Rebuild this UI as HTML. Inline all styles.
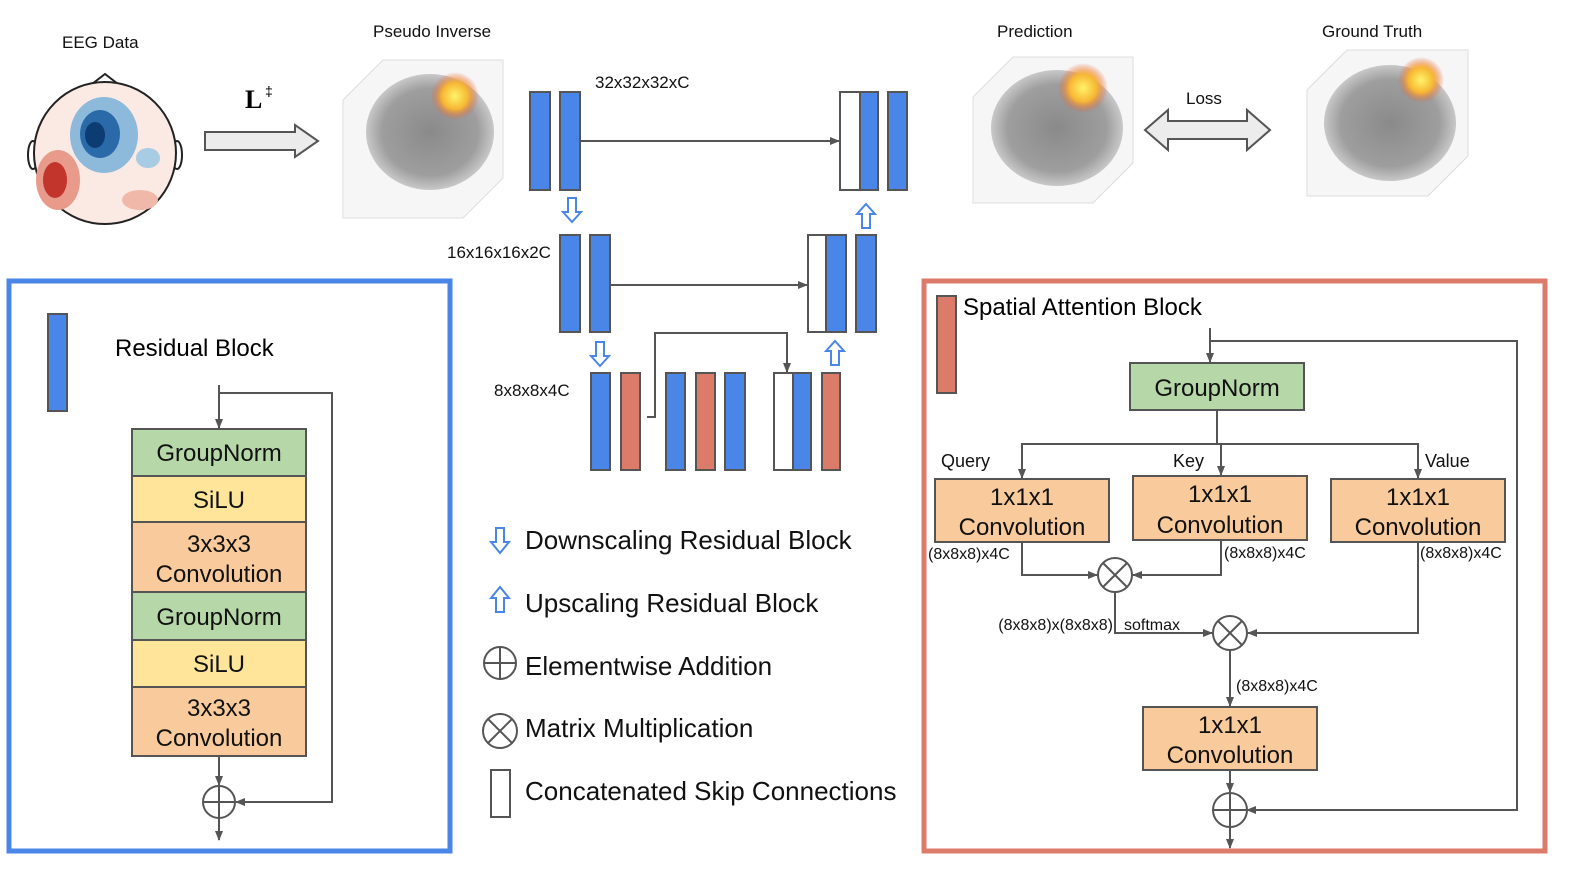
<!DOCTYPE html>
<html><head><meta charset="utf-8"><style>
html,body{margin:0;padding:0;background:#fff;overflow:hidden;width:1578px;height:888px;}
svg{display:block;font-family:"Liberation Sans",Arial,sans-serif;}
</style></head><body>
<svg width="1578" height="888" viewBox="0 0 1578 888" xmlns="http://www.w3.org/2000/svg">
<defs>
<marker id="a" markerWidth="10" markerHeight="10" refX="9" refY="5" orient="auto" markerUnits="userSpaceOnUse"><path d="M0,1 L10,5 L0,9 Z" fill="#555"/></marker>
<radialGradient id="hot"><stop offset="0" stop-color="#fff36a"/><stop offset="0.55" stop-color="#f7b733"/><stop offset="1" stop-color="#e8553a" stop-opacity="0"/></radialGradient>
<radialGradient id="brain"><stop offset="0" stop-color="#8a8a8a"/><stop offset="0.75" stop-color="#9e9e9e"/><stop offset="1" stop-color="#c8c8c8"/></radialGradient>
</defs>
<g font-size="17" fill="#111">
<text x="62" y="48">EEG Data</text>
<text x="373" y="37">Pseudo Inverse</text>
<text x="997" y="37">Prediction</text>
<text x="1322" y="37">Ground Truth</text>
<text x="1186" y="104">Loss</text>
</g>
<path d="M92,84 L105,74 L118,84" fill="none" stroke="#222" stroke-width="2"/>
<ellipse cx="33" cy="155" rx="5" ry="14" fill="none" stroke="#222" stroke-width="2"/>
<ellipse cx="177" cy="155" rx="5" ry="14" fill="none" stroke="#222" stroke-width="2"/>
<circle cx="105" cy="153" r="71" fill="#fbe9e3" stroke="#222" stroke-width="2"/>
<ellipse cx="104" cy="135" rx="34" ry="38" fill="#8db9da"/>
<ellipse cx="100" cy="134" rx="20" ry="24" fill="#2a6aa8"/>
<ellipse cx="95" cy="135" rx="10" ry="13" fill="#0d3c73"/>
<ellipse cx="58" cy="180" rx="22" ry="30" fill="#e89b8a"/>
<ellipse cx="55" cy="180" rx="12" ry="18" fill="#c2352d"/>
<ellipse cx="148" cy="158" rx="12" ry="10" fill="#a8cce4"/>
<ellipse cx="140" cy="200" rx="18" ry="10" fill="#f0b8a8"/>
<path d="M205,132 H295 V125 L318,141 L295,157 V150 H205 Z" fill="#ececec" stroke="#555" stroke-width="2"/>
<text x="245" y="108" font-family="Liberation Serif,serif" font-size="26" font-weight="bold">L</text>
<text x="265" y="96" font-size="14">‡</text>
<g>
<path d="M343,100 L383,60 L503,60 L503,178 L463,218 L343,218 Z" fill="#f6f6f6" stroke="#ddd"/>
<ellipse cx="430" cy="132" rx="64" ry="58" fill="url(#brain)"/>
<circle cx="455" cy="96" r="24" fill="url(#hot)"/>
</g>
<g>
<path d="M973,97 L1013,57 L1133,57 L1133,163 L1093,203 L973,203 Z" fill="#f6f6f6" stroke="#ddd"/>
<ellipse cx="1057" cy="128" rx="66" ry="58" fill="url(#brain)"/>
<circle cx="1083" cy="88" r="25" fill="url(#hot)"/>
</g>
<g>
<path d="M1307,90 L1347,50 L1468,50 L1468,156 L1428,196 L1307,196 Z" fill="#f6f6f6" stroke="#ddd"/>
<ellipse cx="1390" cy="123" rx="66" ry="58" fill="url(#brain)"/>
<circle cx="1421" cy="80" r="23" fill="url(#hot)"/>
</g>
<path d="M1145,130 L1168,110 V121 H1247 V110 L1270,130 L1247,150 V139 H1168 V150 Z" fill="#ececec" stroke="#555" stroke-width="2"/>
<g stroke="#555" stroke-width="2">
<g fill="#4a86e8">
<rect x="530" y="92" width="20" height="98"/><rect x="560" y="92" width="20" height="98"/>
<rect x="860" y="92" width="18" height="98"/><rect x="888" y="92" width="19" height="98"/>
<rect x="560" y="235" width="20" height="97"/><rect x="590" y="235" width="20" height="97"/>
<rect x="826" y="235" width="20" height="97"/><rect x="856" y="235" width="20" height="97"/>
<rect x="591" y="373" width="19" height="97"/><rect x="666" y="373" width="19" height="97"/>
<rect x="725" y="373" width="20" height="97"/><rect x="793" y="373" width="18" height="97"/>
</g>
<g fill="#dd7b6b">
<rect x="621" y="373" width="19" height="97"/><rect x="696" y="373" width="19" height="97"/><rect x="822" y="373" width="18" height="97"/>
</g>
<g fill="#fff">
<rect x="840" y="92" width="20" height="98"/><rect x="808" y="235" width="18" height="97"/><rect x="774" y="373" width="19" height="97"/>
</g>
<g fill="none" marker-end="url(#a)">
<path d="M580,141 H839"/><path d="M610,285 H807"/><path d="M647,417 H655 V333 H787 V372"/>
</g>
</g>
<g fill="#fff" stroke="#4a86e8" stroke-width="2">
<path d="M568,198 h8 v14 h5 l-9,10 l-9,-10 h5 z"/>
<path d="M596,342 h8 v14 h5 l-9,10 l-9,-10 h5 z"/>
<path d="M862,228 h8 v-14 h5 l-9,-10 l-9,10 h5 z"/>
<path d="M831,365 h8 v-14 h5 l-9,-10 l-9,10 h5 z"/>
</g>
<g font-size="17" fill="#111">
<text x="595" y="88">32x32x32xC</text>
<text x="447" y="258">16x16x16x2C</text>
<text x="494" y="396">8x8x8x4C</text>
</g>
<rect x="9" y="281" width="441" height="570" fill="none" stroke="#4a86e8" stroke-width="5"/>
<rect x="48" y="314" width="19" height="97" fill="#4a86e8" stroke="#555" stroke-width="2"/>
<text x="115" y="356" font-size="24">Residual Block</text>
<g stroke="#555" stroke-width="2">
<rect x="132" y="429" width="174" height="47" fill="#b6d7a8"/>
<rect x="132" y="476" width="174" height="46" fill="#ffe599"/>
<rect x="132" y="522" width="174" height="70" fill="#f9cb9c"/>
<rect x="132" y="592" width="174" height="48" fill="#b6d7a8"/>
<rect x="132" y="640" width="174" height="47" fill="#ffe599"/>
<rect x="132" y="687" width="174" height="69" fill="#f9cb9c"/>
<g fill="none" marker-end="url(#a)">
<path d="M219,385 V428"/><path d="M219,393 H332 V802 H236"/><path d="M219,756 V785"/><path d="M219,818 V840"/>
</g>
<circle cx="219" cy="802" r="16" fill="#fff"/><path d="M203,802 H235 M219,786 V818" fill="none"/>
</g>
<g font-size="24" text-anchor="middle" fill="#111">
<text x="219" y="461">GroupNorm</text><text x="219" y="508">SiLU</text>
<text x="219" y="552">3x3x3</text><text x="219" y="582">Convolution</text>
<text x="219" y="625">GroupNorm</text><text x="219" y="672">SiLU</text>
<text x="219" y="716">3x3x3</text><text x="219" y="746">Convolution</text>
</g>
<g fill="#fff" stroke="#4a86e8" stroke-width="2">
<path d="M496,528 h8 v14 h5 l-9,11 l-9,-11 h5 z"/>
<path d="M496,612 h8 v-14 h5 l-9,-11 l-9,11 h5 z"/>
</g>
<g stroke="#555" stroke-width="2" fill="#fff">
<circle cx="500" cy="663" r="16"/><path d="M484,663 H516 M500,647 V679"/>
<circle cx="500" cy="731" r="17"/><path d="M488,719 L512,743 M512,719 L488,743"/>
<rect x="491" y="770" width="19" height="47"/>
</g>
<g font-size="26" fill="#111">
<text x="525" y="549">Downscaling Residual Block</text>
<text x="525" y="612">Upscaling Residual Block</text>
<text x="525" y="675">Elementwise Addition</text>
<text x="525" y="737">Matrix Multiplication</text>
<text x="525" y="800">Concatenated Skip Connections</text>
</g>
<rect x="924" y="281" width="621" height="570" fill="none" stroke="#dd7b6b" stroke-width="5"/>
<rect x="937" y="296" width="19" height="97" fill="#dd7b6b" stroke="#555" stroke-width="2"/>
<text x="963" y="315" font-size="24">Spatial Attention Block</text>
<g stroke="#555" stroke-width="2">
<rect x="1130" y="363" width="174" height="47" fill="#b6d7a8"/>
<rect x="935" y="479" width="174" height="63" fill="#f9cb9c"/>
<rect x="1133" y="476" width="174" height="64" fill="#f9cb9c"/>
<rect x="1331" y="479" width="174" height="63" fill="#f9cb9c"/>
<rect x="1143" y="707" width="174" height="63" fill="#f9cb9c"/>
<g fill="none" marker-end="url(#a)">
<path d="M1210,328 V362"/><path d="M1210,341 H1517 V810 H1247"/>
<path d="M1217,410 V444 H1022 V478"/><path d="M1217,444 H1221 V475"/><path d="M1217,444 H1418 V478"/>
<path d="M1022,542 V575 H1097"/><path d="M1221,540 V575 H1133"/>
<path d="M1115,592 V633 H1212"/><path d="M1418,542 V633 H1248"/>
<path d="M1230,650 V706"/><path d="M1230,770 V792"/><path d="M1230,827 V848"/>
</g>
<circle cx="1115" cy="575" r="17" fill="#fff"/><path d="M1103,563 L1127,587 M1127,563 L1103,587"/>
<circle cx="1230" cy="633" r="17" fill="#fff"/><path d="M1218,621 L1242,645 M1242,621 L1218,645"/>
<circle cx="1230" cy="810" r="17" fill="#fff"/><path d="M1213,810 H1247 M1230,793 V827"/>
</g>
<g font-size="24" text-anchor="middle" fill="#111">
<text x="1217" y="396">GroupNorm</text>
<text x="1022" y="505">1x1x1</text><text x="1022" y="535">Convolution</text>
<text x="1220" y="502">1x1x1</text><text x="1220" y="533">Convolution</text>
<text x="1418" y="505">1x1x1</text><text x="1418" y="535">Convolution</text>
<text x="1230" y="733">1x1x1</text><text x="1230" y="763">Convolution</text>
</g>
<g font-size="18" fill="#111">
<text x="941" y="467">Query</text><text x="1173" y="467">Key</text><text x="1425" y="467">Value</text>
</g>
<g font-size="16" fill="#111">
<text x="928" y="559">(8x8x8)x4C</text><text x="1224" y="558">(8x8x8)x4C</text><text x="1420" y="558">(8x8x8)x4C</text>
<text x="1113" y="630" text-anchor="end">(8x8x8)x(8x8x8)</text><text x="1124" y="630">softmax</text>
<text x="1236" y="691">(8x8x8)x4C</text>
</g>
</svg>
</body></html>
